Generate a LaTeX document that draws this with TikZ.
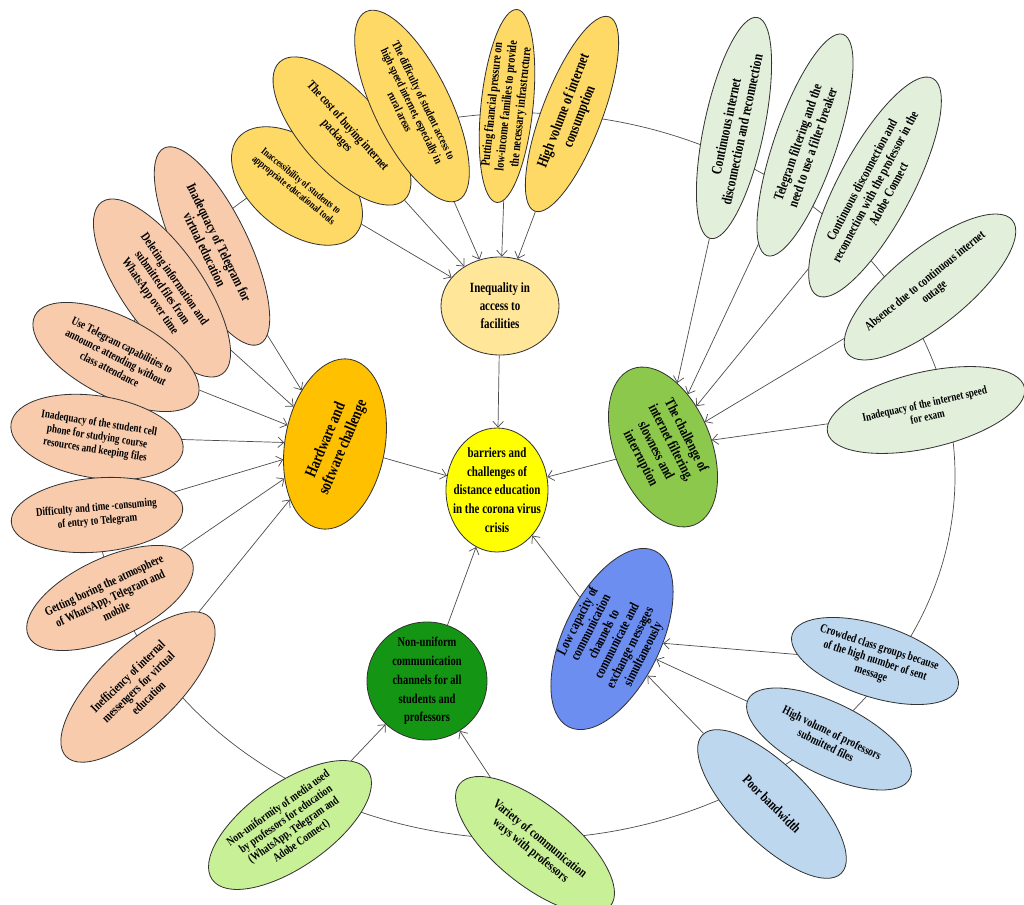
\documentclass[tikz,border=0pt]{standalone}
\usepackage{fontspec}
\setmainfont{Liberation Serif}[FakeStretch=0.78]
\usetikzlibrary{shapes.geometric,arrows.meta}
\definecolor{coreyellow}{HTML}{FFFF00}
\definecolor{ineqfill}{HTML}{FFE699}
\definecolor{hardfill}{HTML}{FFC000}
\definecolor{netfill}{RGB}{140,200,75}
\definecolor{lowfill}{RGB}{108,142,240}
\definecolor{nonufill}{RGB}{20,150,20}
\definecolor{yellowl}{HTML}{FFD966}
\definecolor{greenl}{HTML}{E2EFDA}
\definecolor{orangel}{HTML}{F8CBAD}
\definecolor{bluel}{HTML}{BDD7EE}
\definecolor{limel}{RGB}{200,240,150}

\begin{document}
\begin{tikzpicture}[x=0.03cm, y=-0.03cm,
    bub/.style={ellipse, draw=black!80, line width=0.7pt, inner sep=0pt},
    txt/.style={align=center, inner sep=0pt, font=\bfseries\fontsize{10}{12}\selectfont},
    arr/.style={-{Straight Barb[length=5pt,width=9pt]}, black!70, line width=0.6pt}]

  \useasboundingbox (0,0) rectangle (1024,905);

  % the ring behind all the bubbles
  \draw[black!70, line width=0.6pt] (524,476) ellipse [x radius=12.93cm, y radius=10.89cm];

  % middle and the five groups
  \node[bub, fill=coreyellow, minimum width=3.06cm, minimum height=3.72cm] (core) at (497,490) {};
  \node[txt, font=\bfseries\fontsize{12}{16}\selectfont] at (core) {barriers and\\challenges of\\distance education\\in the corona virus\\crisis};

  \node[bub, fill=ineqfill, minimum width=3.54cm, minimum height=2.94cm] (ineq) at (500,306) {};
  \node[txt, font=\bfseries\fontsize{12}{15.5}\selectfont] at (ineq) {Inequality in\\access to\\facilities};

  \node[bub, fill=hardfill, minimum width=3cm, minimum height=5.16cm, rotate=-10] (hard) at (335,444) {};
  \node[txt, font=\bfseries\fontsize{14}{16}\selectfont, rotate=67] at (hard) {Hardware and\\software challenge};

  \node[bub, fill=netfill, minimum width=2.88cm, minimum height=5.04cm, rotate=22] (net) at (663,447) {};
  \node[txt, font=\bfseries\fontsize{12.5}{14.5}\selectfont, rotate=-63] at (net) {The challenge of\\internet filtering,\\slowness and\\interruption};

  \node[bub, fill=lowfill, minimum width=2.9cm, minimum height=5.88cm, rotate=-26] (low) at (612,639) {};
  \node[txt, font=\bfseries\fontsize{12}{12.5}\selectfont, rotate=63] at (611,638) {Low capacity of\\communication\\channels to\\communicate and\\exchange messages\\simultaneously};

  \node[bub, fill=nonufill, minimum width=3.6cm, minimum height=3.54cm] (nonu) at (427,681) {};
  \node[txt, font=\bfseries\fontsize{11.5}{16}\selectfont] at (nonu) {Non-uniform\\communication\\channels for all\\students and\\professors};

  \draw[arr] (ineq) -- (core);
  \draw[arr] (hard) -- (core);
  \draw[arr] (net) -- (core);
  \draw[arr] (low) -- (core);
  \draw[arr] (nonu) -- (core);

  % access to facilities
  \foreach \nm/\x/\y/\ang/\w/\h/\fs/\txt in {
      y1/297/186/-39/76/45/9/{Inaccessibility of students to\\appropriate educational tools},
      y2/342/131/-48/93/40/11/{The cost of buying internet\\packages},
      y3/412/106/-64/105/38/10/{The difficulty of student access to\\high speed internet, especially in\\rural areas},
      y4/507/106/84/97/26/11/{Putting financial pressure on\\low-income families to provide\\the necessary infrastructure},
      y5/572/114/69/104/30/13/{High volume of internet\\consumption}}{
    \pgfmathsetmacro\ls{1.12*\fs}
    \node[bub, fill=yellowl, minimum width=\w*0.06cm, minimum height=\h*0.06cm, rotate=\ang] (\nm) at (\x,\y) {};
    \node[txt, font=\bfseries\fontsize{\fs}{\ls}\selectfont, rotate=\ang] at (\nm) {\txt};
    \draw[arr] (\nm) -- (ineq);
  }

  % filtering and slowness
  \foreach \nm/\x/\y/\ang/\w/\h/\fs/\txt in {
      g1/734/128/78/113/30/12.5/{Continuous internet\\disconnection and reconnection},
      g2/805/145/71/117/31/12/{Telegram filtering and the\\need to use a filter breaker},
      g3/875/187/62/123/37/11.5/{Continuous disconnection and\\reconnection with the professor in the\\Adobe Connect},
      g4/930/287/39/106/38/11/{Absence due to continuous internet\\outage},
      g5/926/410/13/101/38/10/{Inadequacy of the internet speed\\for exam}}{
    \pgfmathsetmacro\ls{1.12*\fs}
    \node[bub, fill=greenl, minimum width=\w*0.06cm, minimum height=\h*0.06cm, rotate=\ang] (\nm) at (\x,\y) {};
    \node[txt, font=\bfseries\fontsize{\fs}{\ls}\selectfont, rotate=\ang] at (\nm) {\txt};
    \draw[arr] (\nm) -- (net);
  }

  % hardware and software
  \foreach \nm/\x/\y/\ang/\w/\h/\fs/\txt in {
      o1/212/246/-64/109/36/12/{Inadequacy of Telegram for\\virtual education},
      o2/162/288/-55/105/40/11/{Deleting information and\\submitted files from\\WhatsApp over time},
      o3/116/357/-27/91/40/10.2/{Use Telegram capabilities to\\announce attending without\\class attendance},
      o4/97/437/-9/87/41/10/{Inadequacy of the student cell\\phone for studying course\\resources and keeping files},
      o5/97/515/5/86/37/10/{Difficulty and time -consuming\\of entry to Telegram},
      o6/110/598/25/90/40/10.8/{Getting boring the atmosphere\\of WhatsApp, Telegram and\\mobile},
      o7/138/687/44/100/40/11/{Inefficiency of internal\\messengers for virtual\\education}}{
    \pgfmathsetmacro\ls{1.15*\fs}
    \node[bub, fill=orangel, minimum width=\w*0.06cm, minimum height=\h*0.06cm, rotate=\ang] (\nm) at (\x,\y) {};
    \node[txt, font=\bfseries\fontsize{\fs}{\ls}\selectfont, rotate=\ang] at (\nm) {\txt};
    \draw[arr] (\nm) -- (hard);
  }

  % low capacity
  \foreach \nm/\x/\y/\ang/\w/\h/\fs/\txt in {
      b1/875/661/-18/87/36/10.5/{Crowded class groups because\\of the high number of sent\\message},
      b2/829/739/-26/90/36/10.6/{High volume of professors\\submitted files},
      b3/772/804/-45/98/38/12/{Poor bandwidth}}{
    \pgfmathsetmacro\ls{1.12*\fs}
    \node[bub, fill=bluel, minimum width=\w*0.06cm, minimum height=\h*0.06cm, rotate=\ang] (\nm) at (\x,\y) {};
    \node[txt, font=\bfseries\fontsize{\fs}{\ls}\selectfont, rotate=\ang] at (\nm) {\txt};
    \draw[arr] (\nm) -- (low);
  }

  % non-uniform channels
  \foreach \nm/\x/\y/\ang/\w/\h/\fs/\txt in {
      l1/290/825/35/95/42/10.4/{Non-uniformity of media used\\by professors for education\\(WhatsApp, Telegram and\\Adobe Connect)},
      l2/535/845/-39/97/40/11.5/{Variety of communication\\ways with professors}}{
    \pgfmathsetmacro\ls{1.1*\fs}
    \node[bub, fill=limel, minimum width=\w*0.06cm, minimum height=\h*0.06cm, rotate=\ang] (\nm) at (\x,\y) {};
    \node[txt, font=\bfseries\fontsize{\fs}{\ls}\selectfont, rotate=\ang] at (\nm) {\txt};
    \draw[arr] (\nm) -- (nonu);
  }
\end{tikzpicture}
\end{document}
